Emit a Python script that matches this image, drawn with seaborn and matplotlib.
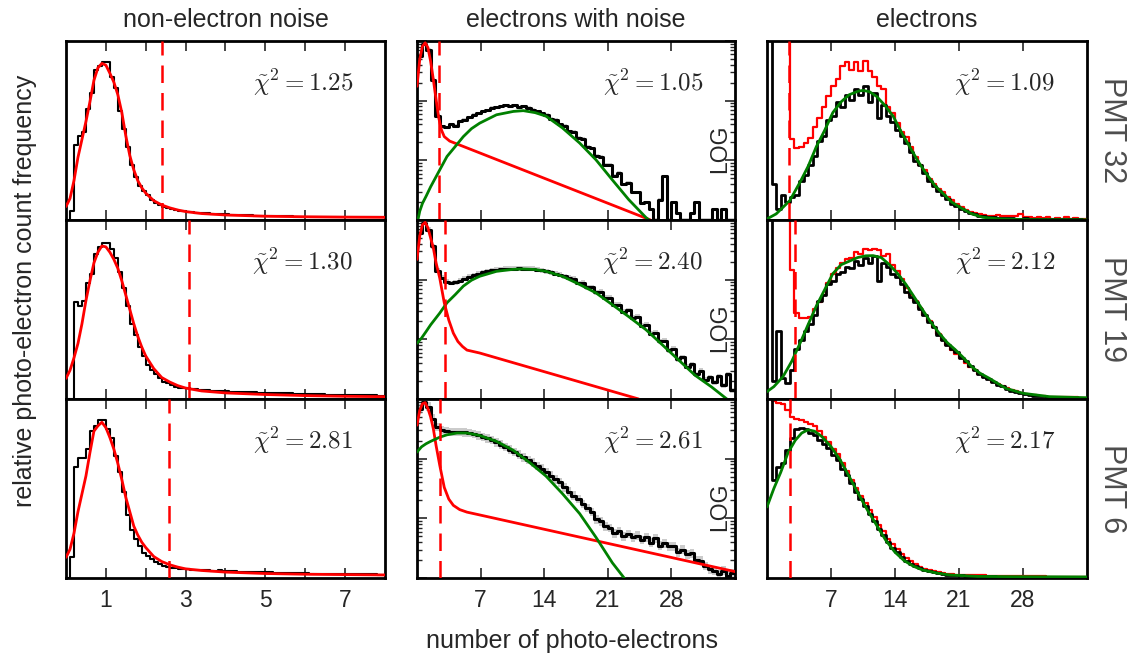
import numpy as np
import matplotlib
matplotlib.use("Agg")
import matplotlib.pyplot as plt
import seaborn as sns
from matplotlib.ticker import LogLocator, NullFormatter

# ------------------------------------------------------------------ data
col_titles = ["non-electron noise", "electrons with noise", "electrons"]
row_labels = ["PMT 32", "PMT 19", "PMT 6"]
chi2 = [["1.25", "1.05", "1.09"],
        ["1.30", "2.40", "2.12"],
        ["2.81", "2.61", "2.17"]]
cut_noise = [2.40, 3.09, 2.58]
cut_elec = [2.44, 3.05, 2.55]

# column 1: non-electron noise histograms (bin width 0.1, 0..8), % of axis height
noise_bw = 0.1
noise_hist_32 = [0, 5, 42, 47, 49, 62, 71, 84, 86, 88,
                 88, 80, 74, 61, 51, 41, 31, 24, 19, 16,
                 14, 11, 9.3, 8.6, 7.5, 6.5, 6.0, 5.5, 5.1, 4.8,
                 4.6, 4.3, 4.1, 3.9, 3.8, 3.7, 3.5, 3.4, 3.3, 3.2,
                 3.1, 3.0, 2.9, 2.8, 2.8, 2.7, 2.6, 2.5, 2.5, 2.4,
                 2.3, 2.3, 2.2, 2.2, 2.1, 2.0, 2.0, 1.9, 1.9, 1.8,
                 1.8, 1.8, 1.8, 1.7, 1.7, 1.7, 1.7, 1.6, 1.6, 1.6,
                 1.6, 1.6, 1.5, 1.5, 1.5, 1.5, 1.5, 1.5, 1.4, 1.4]
noise_hist_19 = [0, 0, 54, 52, 55, 65, 70, 81, 85, 87,
                 87, 84, 79, 71, 62, 52, 42, 36, 29, 24,
                 19, 16, 14, 11.5, 9.7, 8.8, 7.8, 6.9, 6.4, 6.0,
                 6.0, 5.7, 5.4, 5.2, 5.0, 4.8, 4.7, 4.5, 4.4, 4.3,
                 4.2, 4.1, 4.0, 3.9, 3.9, 3.8, 3.7, 3.7, 3.6, 3.5,
                 3.5, 3.4, 3.3, 3.3, 3.2, 3.2, 3.1, 3.0, 3.0, 2.9,
                 2.8, 2.8, 2.7, 2.7, 2.6, 2.5, 2.5, 2.4, 2.4, 2.3,
                 2.3, 2.2, 2.2, 2.1, 2.1, 2.0, 2.0, 2.0, 1.9, 1.9]
noise_hist_6 = [0, 11.5, 62, 67, 67, 72, 82, 85, 88, 88,
                83, 78, 68, 59, 48, 35, 27, 22, 18, 14,
                12.5, 10.6, 8.8, 7.8, 6.9, 6.3, 5.8, 5.4, 5.2, 5.0,
                4.9, 4.7, 4.6, 4.4, 4.3, 4.2, 4.1, 4.0, 4.2, 4.0,
                3.9, 3.8, 3.7, 3.6, 3.5, 3.4, 3.4, 3.3, 3.3, 3.2,
                3.2, 3.1, 3.0, 3.0, 2.9, 2.8, 2.8, 2.7, 2.7, 2.6,
                2.6, 2.5, 2.5, 2.4, 2.4, 2.3, 2.3, 2.3, 2.2, 2.2,
                2.2, 2.1, 2.1, 2.1, 2.0, 2.0, 2.0, 2.0, 1.9, 1.9]

noise_fit_x = [0, 0.1, 0.2, 0.3, 0.4, 0.5, 0.6, 0.7, 0.8, 0.9, 1.0, 1.1, 1.2, 1.3, 1.4,
               1.5, 1.6, 1.7, 1.8, 1.9, 2.0, 2.2, 2.4, 2.6, 2.8, 3.0, 3.4, 4.0, 5.0,
               6.0, 7.0, 8.0]
noise_fit_32 = [7.5, 12, 22, 35, 45, 55, 66, 78, 85, 87.5, 86.5, 82, 77, 70, 60,
                47, 36, 28, 22, 18, 15, 10.8, 8.4, 6.8, 5.6, 4.7, 3.6, 2.8, 2.1,
                1.8, 1.6, 1.5]
noise_fit_19 = [11.5, 16, 23, 31, 42, 55, 66, 76, 82, 85.5, 85, 82, 78, 73, 66,
                58, 50, 42, 35, 29, 24, 17, 12, 9.5, 7.5, 6.1, 4.5, 3.4, 2.5,
                1.9, 1.5, 1.3]
noise_fit_6 = [11.5, 16, 25, 37, 47, 57, 70, 82, 85, 87, 84, 78.5, 72, 64, 55,
               45, 37, 29, 24, 20, 17, 12, 9.2, 7.4, 6.1, 5.1, 4.2, 3.3, 2.5,
               2.1, 1.9, 1.7]

# column 2: electrons with noise, counts per 0.5 bin (0..35), log scale
elec_bw = 0.5
ewn_hist_32 = [562, 891, 708, 224, 56, 37, 36, 40, 38, 45,
               48, 53, 58, 62, 66, 69, 76, 78, 80, 83,
               80, 83, 78, 80, 76, 70, 66, 62, 58, 50,
               48, 40, 38, 31, 30, 24, 23, 17, 16, 12,
               11.5, 8.5, 8.5, 5.5, 6.2, 4.0, 4.2, 2.9, 2.9, 1.9,
               2.0, 1.5, 1, 2.2, 5.4, 1, 2, 1.3, 1, 1,
               1.3, 2, 1, 1, 1, 1.5, 1, 1.5, 1, 1]
ewn_hist_19 = [607, 891, 692, 363, 141, 107, 93, 88, 90, 96,
               104, 111, 118, 126, 133, 138, 144, 148, 151, 152,
               153, 153, 155, 153, 152, 152, 148, 144, 138, 133,
               126, 120, 114, 107, 104, 88, 89, 74, 75, 61,
               63, 50, 50, 38, 38, 29, 31, 23, 24, 17,
               17.5, 12.5, 12.8, 9.2, 9.4, 6.6, 7.0, 4.6, 5.0, 3.5,
               3.8, 2.6, 3.0, 2.1, 2.3, 1.9, 2.4, 1.7, 2.6, 1.4]
ewn_hist_6 = [692, 891, 741, 468, 339, 302, 288, 282, 282, 280,
              275, 269, 260, 245, 229, 218, 204, 188, 172, 158,
              141, 129, 117, 105, 95, 86, 75, 68, 60, 52,
              45, 40, 33, 28, 24, 21, 17.5, 14.8, 12.8, 9.6,
              8.9, 7.3, 6.9, 5.6, 6.1, 5.0, 5.5, 4.8, 5.1, 4.3,
              4.8, 3.9, 4.6, 3.5, 3.8, 3.4, 3.4, 2.7, 3.0, 2.5,
              2.6, 2.0, 1.95, 1.6, 1.4, 1.3, 1.17, 1.33, 1.1, 1.2]

ewn_noise_x_32 = [0, 0.3, 0.6, 0.9, 1.2, 1.5, 1.8, 2.1, 2.4, 2.7, 3.0, 3.6, 25.7]
ewn_noise_y_32 = [174, 490, 813, 933, 776, 457, 225, 105, 51, 32, 25, 21, 1]
ewn_noise_x_19 = [0, 0.3, 0.6, 0.9, 1.2, 1.5, 1.8, 2.1, 2.5, 3.0, 3.5, 4.0, 4.5, 5.0,
                  5.5, 6.9, 24.4]
ewn_noise_y_19 = [218, 537, 832, 912, 741, 501, 339, 191, 107, 41, 21, 12.7, 9.2, 7.6,
                  6.6, 5.9, 1]
ewn_noise_x_6 = [0, 0.3, 0.6, 0.9, 1.2, 1.5, 1.8, 2.1, 2.5, 3.0, 3.5, 4.0, 4.7, 5.5,
                 6.9, 35]
ewn_noise_y_6 = [363, 646, 832, 871, 692, 501, 316, 166, 78, 33, 21, 16.5, 14, 12.7,
                 11.4, 1.28]

ewn_sig_x_32 = [0, 0.1, 0.3, 0.6, 1.0, 1.5, 2.5, 3.3, 4.2, 5.1, 6.0, 6.9, 8.75, 10.6,
                11.7, 13.0, 14.2, 16.0, 17.9, 19.7, 21.5, 23.3, 25.2, 25.9]
ewn_sig_y_32 = [0.5, 1.0, 1.4, 1.9, 2.5, 3.6, 6.9, 11.6, 17, 25, 34, 42, 58, 66,
                68, 63, 55, 35, 19.5, 10.2, 4.7, 2.2, 1.1, 0.9]
ewn_sig_x_19 = [0, 0.5, 1.0, 1.5, 2.5, 3.3, 4.2, 5.1, 6.0, 6.9, 8.75, 10.6, 11.7, 13.0,
                14.2, 16.0, 17.9, 19.7, 21.5, 23.3, 25.2, 27.0, 28.8, 30.6, 32.4, 34.1, 35]
ewn_sig_y_19 = [8.6, 10.5, 13.5, 17.5, 27.5, 41, 56, 78, 98, 114, 138, 149, 151, 148,
                138, 114, 83, 60, 38, 24, 14.5, 8.1, 4.5, 2.5, 1.6, 1.0, 0.85]
ewn_sig_x_6 = [0, 0.5, 1.0, 1.5, 2.5, 3.3, 4.4, 5.5, 6.9, 8.75, 10.6, 12.4, 14.2, 16.0,
               17.9, 19.7, 21.5, 22.8, 23.6]
ewn_sig_y_6 = [129, 158, 178, 195, 229, 251, 269, 269, 245, 195, 138, 86, 51, 26,
               12, 4.8, 1.8, 1.0, 0.7]
ewn_band = [1.06, 1.10, 1.18]

# column 3: electrons (black), electrons with noise (red), 0.5 bins, % of axis height
el_hist_32 = [150, 20, 6, 14, 10, 13, 14, 22, 25, 31,
              36, 44, 47, 56, 58, 66, 63, 70, 67, 73,
              70, 75, 66, 71, 57, 64, 58, 55, 50, 47,
              43, 38, 33, 31, 26, 22, 19, 16, 14, 12,
              9, 8, 6, 5, 4, 3.2, 2.5, 2, 1.6, 1.4,
              1.1, 1.0, 0.9, 1.0, 0.8, 0.7, 0.9, 0.6, 0.7, 0.5,
              0.6, 0.5, 0.4, 0.5, 0.4, 0.3, 0.4, 0.3, 0.3, 0.2]
elraw_hist_32 = [150, 150, 150, 150, 150, 45, 40, 41, 43, 46,
                 52, 57, 63, 69, 75, 79, 86, 88, 84, 88,
                 83, 89, 83, 80, 75, 73, 63, 60, 54, 49,
                 46.5, 41, 35, 31, 28, 23, 20, 17.5, 15.6, 12.8,
                 11, 9, 7.1, 5.6, 4.7, 3.8, 3.4, 3.0, 2.4, 2.4,
                 2.8, 2.1, 2.0, 2.4, 2.2, 3.4, 1.9, 1.5, 1.1, 1.7,
                 1.1, 1.4, 0.75, 1.1, 0.8, 1.4, 0.6, 1.0, 0.6, 0.8]
el_hist_19 = [130, 10, 38, 12, 9, 16, 28, 33, 38, 42,
              47, 55, 58, 64, 66, 70, 71, 74, 73, 77,
              75, 79, 76, 80, 66, 76, 74, 70, 68, 64,
              60, 57, 54, 50, 47, 43, 40, 36, 33, 30,
              28, 26, 23, 21, 18.5, 16, 14, 12.5, 11, 9.5,
              8, 7, 5.5, 4.6, 3.8, 3.2, 2.7, 2.3, 1.9, 1.6,
              1.4, 1.2, 1.1, 1.0, 0.9, 0.8, 0.8, 0.7, 0.7, 0.6]
elraw_hist_19 = [150, 150, 150, 150, 110, 72, 48, 45, 45, 46,
                 50, 54, 58, 65, 70, 73, 76, 78, 79, 82,
                 81, 84, 83, 84, 83, 80, 81, 75, 71.5, 67,
                 62, 58, 55, 51, 47, 43.5, 40, 36.5, 33, 30,
                 27.5, 25, 23, 20, 18, 16, 14, 12.5, 11, 9.7,
                 8.4, 7.3, 6, 5, 4.3, 3.6, 3, 2.4, 2.1, 1.7,
                 1.5, 1.3, 1.2, 1.1, 1.0, 1.0, 0.9, 0.9, 0.8, 0.8]
el_hist_6 = [120, 55, 62, 64, 71.5, 78, 83, 84, 83, 81,
             80, 77, 75, 72.5, 68.7, 66, 61, 57.5, 53, 48,
             44, 40, 36, 32, 27.5, 24, 20, 17, 14.4, 12,
             9.7, 8, 6.6, 5.4, 4.5, 3.7, 3.2, 2.6, 2.2, 1.9,
             1.7, 1.5, 1.4, 1.3, 1.2, 1.1, 1.0, 1.0, 0.9, 0.9,
             0.8, 0.8, 0.8, 0.7, 0.7, 0.7, 0.7, 0.6, 0.6, 0.6,
             0.6, 0.6, 0.6, 0.5, 0.5, 0.5, 0.5, 0.5, 0.5, 0.5]
elraw_hist_6 = [150, 99, 98, 97, 94, 90, 89, 88, 87, 86,
                85, 82, 79, 76, 72, 69, 64, 60, 55, 50.5,
                46, 42, 38, 34, 29.5, 26, 22, 19, 16, 13.5,
                11, 9.3, 7.7, 6.4, 5.3, 4.4, 3.7, 3.2, 2.8, 2.4,
                2.1, 1.9, 1.8, 1.7, 1.6, 1.5, 1.4, 1.4, 1.3, 1.3,
                1.2, 1.2, 1.1, 1.1, 1.0, 1.0, 1.0, 0.9, 0.9, 0.9,
                0.9, 0.8, 0.8, 0.8, 0.8, 0.8, 0.7, 0.7, 0.7, 0.7]

el_fit_x_32 = [0, 1, 1.75, 2.5, 3.6, 4.5, 5.4, 6.3, 7.2, 8.1, 9, 10, 10.5, 11.2, 12,
               12.9, 13.8, 14.7, 15.6, 16.5, 17.4, 18.4, 19.3, 20.2, 21.1, 22.4, 23.6,
               25.4, 28, 35]
el_fit_y_32 = [0.6, 3.4, 7.1, 10.9, 21, 30, 41, 50, 60, 66, 70, 72, 72.4, 71.7, 69,
               64, 58, 49, 41, 33, 26, 19, 14.6, 10, 7.1, 3.4, 1.5,
               0.6, 0.2, 0.1]
el_fit_x_19 = [0, 0.75, 1.75, 2.7, 3.6, 4.5, 5.4, 6.3, 7.2, 8.1, 9, 9.9, 10.8, 11.6,
               12.5, 13.4, 14.3, 15.2, 16.1, 17, 17.9, 18.8, 19.7, 20.6, 21.5, 22.4,
               23.3, 24.3, 25.2, 26.1, 28, 30.9, 35]
el_fit_y_19 = [4.1, 6.9, 12.5, 21, 31, 41.6, 52, 61, 70, 75, 77, 79, 80, 80.1,
               79, 75, 70, 64, 57, 50, 43, 37, 31.6, 27.5, 23, 18,
               14.4, 11.6, 8.8, 6, 3.2, 1.3, 0.7]
el_fit_x_6 = [0, 0.75, 1.5, 2.3, 3.1, 3.8, 4.5, 5.2, 6, 7, 8, 9, 10, 11, 12, 13, 14,
              15, 16, 17, 18.5, 20, 23, 27, 35]
el_fit_y_6 = [39.7, 50, 59, 70, 77, 81, 82.8, 82, 79, 73.4, 66, 56.6, 47, 37.8, 29.4,
              21, 14.4, 9.7, 6.6, 4.5, 2.8, 1.7, 0.9, 0.75, 0.6]

noise_hists = [noise_hist_32, noise_hist_19, noise_hist_6]
noise_fits = [noise_fit_32, noise_fit_19, noise_fit_6]
ewn_hists = [ewn_hist_32, ewn_hist_19, ewn_hist_6]
ewn_noise = [(ewn_noise_x_32, ewn_noise_y_32), (ewn_noise_x_19, ewn_noise_y_19),
             (ewn_noise_x_6, ewn_noise_y_6)]
ewn_sig = [(ewn_sig_x_32, ewn_sig_y_32), (ewn_sig_x_19, ewn_sig_y_19),
           (ewn_sig_x_6, ewn_sig_y_6)]
el_hists = [el_hist_32, el_hist_19, el_hist_6]
elraw_hists = [elraw_hist_32, elraw_hist_19, elraw_hist_6]
el_fits = [(el_fit_x_32, el_fit_y_32), (el_fit_x_19, el_fit_y_19),
           (el_fit_x_6, el_fit_y_6)]

# ------------------------------------------------------------------ style
sns.set_theme(style="white")
plt.rcParams["font.family"] = ["Liberation Sans", "DejaVu Sans"]
plt.rcParams["mathtext.fontset"] = "cm"
plt.rcParams["axes.edgecolor"] = "black"
plt.rcParams["axes.linewidth"] = 2.0

RED = "#ff0000"
GREEN = "#008000"
W, H = 1129, 660
fig = plt.figure(figsize=(W / 100, H / 100), dpi=100)

col_left = [66, 417, 767]
col_w = [319, 318, 320]
row_top = [41, 220, 399]
row_h = 179


def step(ax, width, vals, color, lw, band=None):
    vals = np.asarray(vals, float)
    edges = np.arange(len(vals) + 1) * width
    y = np.append(vals, vals[-1])
    if band is not None:
        ax.fill_between(edges, y / band, y * band, step="post",
                        color="0.6", alpha=0.5, lw=0, zorder=1)
    sns.lineplot(x=edges, y=y, drawstyle="steps-post", estimator=None, sort=False,
                 color=color, lw=lw, ax=ax, zorder=2)


def fit(ax, x, y, color, lw):
    sns.lineplot(x=x, y=y, estimator=None, sort=False, color=color, lw=lw,
                 ax=ax, zorder=3)


for i in range(3):
    for j in range(3):
        rect = [col_left[j] / W, 1 - (row_top[i] + row_h) / H, col_w[j] / W, row_h / H]
        ax = fig.add_axes(rect)
        if j == 0:
            step(ax, noise_bw, noise_hists[i], "black", 1.5)
            fit(ax, noise_fit_x, noise_fits[i], RED, 2.0)
            ax.axvline(cut_noise[i], color=RED, lw=1.8, ls=(0, (7, 4)), zorder=4)
            ax.set_xlim(0, 8)
            ax.set_ylim(0, 100)
            ax.set_xticks(range(1, 8))
            ax.set_xticklabels(["1", "", "3", "", "5", "", "7"])
            ax.set_yticks([])
        elif j == 1:
            step(ax, elec_bw, ewn_hists[i], "black", 2.2, band=ewn_band[i])
            fit(ax, ewn_noise[i][0], ewn_noise[i][1], RED, 2.0)
            fit(ax, ewn_sig[i][0], ewn_sig[i][1], GREEN, 2.0)
            ax.axvline(cut_elec[i], color=RED, lw=1.8, ls=(0, (7, 4)), zorder=4)
            ax.set_yscale("log")
            ax.set_xlim(0, 35)
            ax.set_ylim(1, 1000)
            ax.set_xticks([7, 14, 21, 28])
            ax.yaxis.set_major_locator(LogLocator(base=10))
            ax.yaxis.set_minor_locator(LogLocator(base=10, subs=range(2, 10)))
            ax.yaxis.set_major_formatter(NullFormatter())
            ax.yaxis.set_minor_formatter(NullFormatter())
            ax.tick_params(axis="y", which="both", direction="in", left=True, right=True)
            ax.tick_params(axis="y", which="major", length=7, width=1.2)
            ax.tick_params(axis="y", which="minor", length=3.5, width=1.0)
            ax.text(0.953, 0.40, "LOG", rotation=90, ha="center", va="center",
                    fontsize=16.5, transform=ax.transAxes)
        else:
            step(ax, elec_bw, elraw_hists[i], RED, 1.6)
            step(ax, elec_bw, el_hists[i], "black", 2.0)
            fit(ax, el_fits[i][0], el_fits[i][1], GREEN, 2.0)
            ax.axvline(cut_elec[i], color=RED, lw=1.8, ls=(0, (7, 4)), zorder=4)
            ax.set_xlim(0, 35)
            ax.set_ylim(0, 100)
            ax.set_xticks([7, 14, 21, 28])
            ax.set_yticks([])
        ax.set_xlabel("")
        ax.set_ylabel("")
        ax.tick_params(axis="x", which="major", direction="in", top=True, bottom=True,
                       length=7, width=1.2, labelsize=16.5, pad=8,
                       labelbottom=(i == 2))
        ax.tick_params(axis="x", which="minor", bottom=False, top=False)
        for s in ax.spines.values():
            s.set_linewidth(2.0)
            s.set_color("black")
        ax.text(0.9, 0.723, r"$\tilde{\chi}^2 = " + chi2[i][j] + "$",
                transform=ax.transAxes, ha="right", va="baseline", fontsize=18,
                zorder=5)
        if i == 0:
            ax.set_title(col_titles[j], fontsize=18, pad=10)
    yc = 1 - (row_top[i] + row_h / 2) / H
    fig.text(1112 / W, yc, row_labels[i], rotation=270, ha="center", va="center",
             fontsize=22, color="0.3")

fig.text(0.507, 1 - 648 / H, "number of photo-electrons", ha="center",
         va="baseline", fontsize=18)
fig.text(0.022, 0.56, "relative photo-electron count frequency", rotation=90,
         ha="center", va="center", fontsize=18)

fig.savefig("out.png", dpi=100)
